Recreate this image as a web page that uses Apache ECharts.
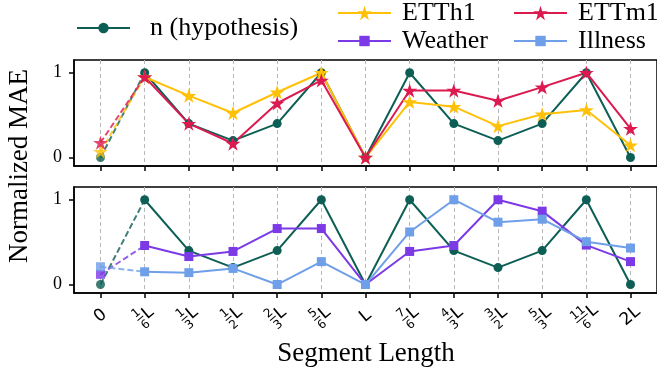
<!DOCTYPE html>
<html>
<head>
<meta charset="utf-8">
<script src="https://cdn.jsdelivr.net/npm/echarts@6/dist/echarts.min.js"></script>
<style>
  html, body { margin: 0; padding: 0; background: #fff; }
  #chart { width: 657px; height: 368px; }
</style>
</head>
<body>
<div id="chart"></div>
<script>
// Segment lengths along the x axis ("a/bL" is drawn as a stacked fraction)
const categories = ['0', '1/6L', '1/3L', '1/2L', '2/3L', '5/6L', 'L', '7/6L', '4/3L', '3/2L', '5/3L', '11/6L', '2L'];
const yTicks = [0, 1];

// Normalized MAE per segment length
const hypothesis = [0, 1, 0.4, 0.2, 0.4, 1, 0, 1, 0.4, 0.2, 0.4, 1, 0];
const etth1 = [0.07, 0.95, 0.73, 0.525, 0.77, 1.0, 0, 0.655, 0.60, 0.37, 0.51, 0.56, 0.145];
const ettm1 = [0.175, 0.95, 0.40, 0.165, 0.64, 0.91, 0, 0.79, 0.79, 0.67, 0.83, 1.0, 0.34];
const weather = [0.12, 0.46, 0.33, 0.39, 0.66, 0.66, 0, 0.39, 0.46, 1.0, 0.865, 0.465, 0.27];
const illness = [0.21, 0.15, 0.14, 0.19, 0, 0.27, 0, 0.62, 1.0, 0.735, 0.77, 0.505, 0.43];

const COLORS = {
  hyp: '#0d5f55',
  etth1: '#ffc107',
  ettm1: '#dc1a50',
  weather: '#7b3ae6',
  illness: '#6f9fe8'
};

const STAR = 'path://M0,-100 L22.45,-30.9 L95.1,-30.9 L36.3,11.8 L58.8,80.9 L0,38.2 L-58.8,80.9 L-36.3,11.8 L-95.1,-30.9 L-22.45,-30.9 Z';
const SERIF = 'Liberation Serif';
const SANS = 'DejaVu Sans';
const xIdx = categories.map((_, i) => i);

// Solid line from the first non-zero length, dashed link from length 0
function makeSeries(name, values, color, symbol, size, grid) {
  const solid = {
    name: name,
    type: 'line',
    xAxisIndex: grid,
    yAxisIndex: grid,
    data: values.slice(1).map((v, i) => [i + 1, v]),
    symbol: symbol,
    symbolSize: size,
    symbolKeepAspect: true,
    itemStyle: { color: color },
    lineStyle: { color: color, width: 2 },
    emphasis: { disabled: true },
    animation: false
  };
  const dashed = {
    name: name + ' (0)',
    type: 'line',
    xAxisIndex: grid,
    yAxisIndex: grid,
    data: [[0, values[0]], { value: [1, values[1]], symbol: 'none' }],
    symbol: symbol,
    symbolSize: size,
    symbolKeepAspect: true,
    itemStyle: { color: color, opacity: 0.8 },
    lineStyle: { color: color, width: 2, type: [6, 3], opacity: 0.8 },
    emphasis: { disabled: true },
    animation: false
  };
  return [solid, dashed];
}

// Tick label: "a/bL" becomes numerator over bar over denominator, then L
function tickLabel(v) {
  const s = categories[Math.round(v)];
  const m = /^(\d+)\/(\d+)(.*)$/.exec(s);
  if (!m) return '{t|' + s + '}';
  const wide = m[1].length > 1 || m[2].length > 1;
  const sp = wide ? 'spw' : 'sp';
  const bar = wide ? '──' : '─';
  return '{' + sp + '| }{n|' + m[1] + '}{b|' + bar + '}{d|' + m[2] + '}{' + sp + '| }{t|' + m[3] + '}';
}

const labelRich = {
  t: { fontFamily: SANS, fontSize: 17, color: '#000', lineHeight: 27, verticalAlign: 'middle', align: 'center' },
  n: { fontFamily: SANS, fontSize: 12, color: '#000', lineHeight: 12, width: 0, verticalAlign: 'top', align: 'center' },
  d: { fontFamily: SANS, fontSize: 12, color: '#000', lineHeight: 12, width: 0, verticalAlign: 'bottom', align: 'center' },
  b: { fontFamily: SANS, fontSize: 12, color: '#000', lineHeight: 12, width: 0, verticalAlign: 'middle', align: 'center' },
  sp: { fontSize: 10, width: 4.5, lineHeight: 11, verticalAlign: 'middle', align: 'center' },
  spw: { fontSize: 10, width: 8, lineHeight: 11, verticalAlign: 'middle', align: 'center' }
};

function xAxisFor(grid) {
  return {
    type: 'value',
    gridIndex: grid,
    min: -0.6,
    max: 12.6,
    axisLine: { show: true, onZero: false, lineStyle: { color: '#000', width: 1.5 } },
    axisTick: { show: true, customValues: xIdx, length: 5, lineStyle: { color: '#000', width: 1.5 } },
    axisLabel: {
      show: grid === 1,
      customValues: xIdx,
      formatter: tickLabel,
      rich: labelRich,
      rotate: 40,
      align: 'center',
      verticalAlign: 'middle',
      margin: 23,
      color: '#000'
    },
    splitLine: { show: true, lineStyle: { color: '#b8b8b8', type: [4, 3], width: 1 } }
  };
}

function yAxisFor(grid) {
  return {
    type: 'value',
    gridIndex: grid,
    min: -0.1,
    max: 1.15,
    axisLine: { show: true, onZero: false, lineStyle: { color: '#000', width: 1.5 } },
    axisTick: { show: true, customValues: yTicks, length: 5, lineStyle: { color: '#000', width: 1.5 } },
    axisLabel: { customValues: yTicks, margin: 12, fontFamily: SERIF, fontSize: 18, color: '#000' },
    splitLine: { show: false }
  };
}

function legendItem(name, left, top, gap, iconH) {
  return {
    data: [name],
    left: left,
    top: top,
    padding: 0,
    itemWidth: 53,
    itemHeight: iconH,
    selectedMode: false,
    textStyle: { fontFamily: SERIF, fontSize: 26, color: '#000', padding: [0, 0, 0, gap] }
  };
}

const series = [].concat(
  makeSeries('n (hypothesis)', hypothesis, COLORS.hyp, 'circle', 9, 0),
  makeSeries('ETTh1', etth1, COLORS.etth1, STAR, 15, 0),
  makeSeries('ETTm1', ettm1, COLORS.ettm1, STAR, 15, 0),
  makeSeries('n (hypothesis)', hypothesis, COLORS.hyp, 'circle', 9, 1),
  makeSeries('Weather', weather, COLORS.weather, 'rect', 9, 1),
  makeSeries('Illness', illness, COLORS.illness, 'rect', 9, 1)
);

const chart = echarts.init(document.getElementById('chart'), null, { renderer: 'canvas' });
chart.setOption({
  backgroundColor: '#fff',
  animation: false,
  grid: [
    { left: 74, right: -3, top: 60, height: 106, show: true, borderColor: '#000', borderWidth: 1.5 },
    { left: 74, right: -3, top: 187, height: 106, show: true, borderColor: '#000', borderWidth: 1.5 }
  ],
  xAxis: [xAxisFor(0), xAxisFor(1)],
  yAxis: [yAxisFor(0), yAxisFor(1)],
  legend: [
    legendItem('n (hypothesis)', 76, 15, 15, 13),
    legendItem('ETTh1', 337, 0, 6, 18),
    legendItem('ETTm1', 513, 0, 6, 18),
    legendItem('Weather', 337, 28, 6, 13),
    legendItem('Illness', 513, 28, 6, 13)
  ],
  graphic: [
    {
      type: 'text',
      x: 20, y: 166,
      rotation: Math.PI / 2,
      style: { text: 'Normalized MAE', fontFamily: SERIF, fontSize: 27, fill: '#000', align: 'center', verticalAlign: 'middle' }
    },
    {
      type: 'text',
      x: 366, y: 354,
      style: { text: 'Segment Length', fontFamily: SERIF, fontSize: 27, fill: '#000', align: 'center', verticalAlign: 'middle' }
    }
  ],
  series: series
});
</script>
</body>
</html>
